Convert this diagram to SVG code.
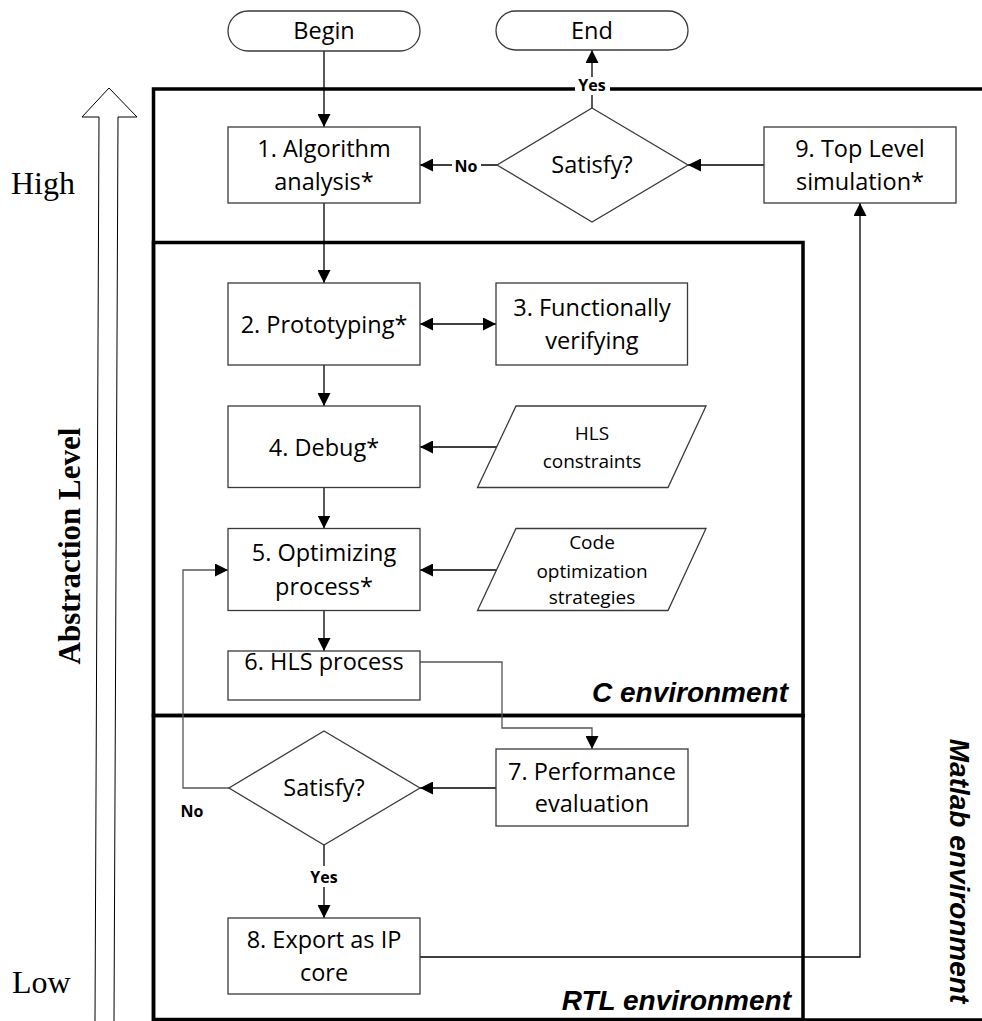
<svg xmlns="http://www.w3.org/2000/svg" width="982" height="1021" viewBox="0 0 982 1021">
<defs>
<marker id="ah" markerUnits="userSpaceOnUse" markerWidth="13" markerHeight="13" refX="13" refY="6.5" orient="auto-start-reverse" viewBox="0 0 13 13">
<path d="M0,0 L13,6.5 L0,13 z" fill="#000"/>
</marker>
</defs>
<style>
.frame{fill:none;stroke:#000;stroke-width:3.5}
.box{fill:#fff;stroke:#3a3a3a;stroke-width:1.3}
.c{fill:none;stroke:#000;stroke-width:1.3}
.cg{fill:none;stroke:#555;stroke-width:1.3}
.t{font-family:"Open Sans","Liberation Sans",sans-serif;font-size:23.5px;fill:#000;text-anchor:middle}
.ts{font-family:"Open Sans","Liberation Sans",sans-serif;font-size:19px;fill:#000;text-anchor:middle}
.lbl{font-family:"Open Sans","Liberation Sans",sans-serif;font-size:16px;font-weight:bold;fill:#000;text-anchor:middle}
.env{font-family:"Liberation Sans",Arial,sans-serif;font-size:28px;font-weight:bold;font-style:italic;fill:#000}
.serif{font-family:"Liberation Serif","Times New Roman",serif;fill:#000}
</style>

<g id="abstraction-arrow">
<path d="M95,1021 L99,117 L82,117 L109,88 L137,117 L118,117 L114,1021" fill="#fff" stroke="#000" stroke-width="1"/>
<text class="serif" x="11" y="194" font-size="32">High</text>
<text class="serif" x="12" y="993" font-size="32">Low</text>
<text class="serif" transform="translate(80,546) rotate(-90)" font-size="31" font-weight="bold" text-anchor="middle">Abstraction Level</text>
</g>

<g id="env-frames">
<rect class="frame" x="153.5" y="89" width="850" height="931"/>
<rect class="frame" x="153.5" y="242.5" width="649.5" height="473"/>
<rect class="frame" x="153.5" y="715.5" width="649.5" height="304"/>
<text class="env" x="788" y="702" text-anchor="end">C environment</text>
<text class="env" x="791" y="1010" text-anchor="end">RTL environment</text>
<text class="env" transform="translate(950,871) rotate(90)" text-anchor="middle">Matlab environment</text>
</g>

<g id="connectors">
<line class="c" x1="324" y1="51" x2="324" y2="127" marker-end="url(#ah)"/>
<line class="c" x1="324" y1="203" x2="324" y2="283" marker-end="url(#ah)"/>
<line class="c" x1="420" y1="324" x2="496" y2="324" marker-start="url(#ah)" marker-end="url(#ah)"/>
<line class="c" x1="324" y1="365" x2="324" y2="406" marker-end="url(#ah)"/>
<line class="c" x1="497" y1="447" x2="420" y2="447" marker-end="url(#ah)"/>
<line class="c" x1="324" y1="487.5" x2="324" y2="528.5" marker-end="url(#ah)"/>
<line class="c" x1="497" y1="570" x2="420" y2="570" marker-end="url(#ah)"/>
<line class="c" x1="324" y1="611" x2="324" y2="651" marker-end="url(#ah)"/>
<polyline class="cg" points="420,662 502,662 502,728 592,728 592,749" marker-end="url(#ah)"/>
<line class="c" x1="496" y1="788" x2="420" y2="788" marker-end="url(#ah)"/>
<polyline class="cg" points="229,788 183,788 183,570 228,570" marker-end="url(#ah)"/>
<line class="c" x1="324" y1="845" x2="324" y2="918" marker-end="url(#ah)"/>
<polyline class="c" points="420,957 860,957 860,203" marker-end="url(#ah)"/>
<line class="c" x1="764" y1="165" x2="688" y2="165" marker-end="url(#ah)"/>
<line class="c" x1="497" y1="165" x2="420" y2="165" marker-end="url(#ah)"/>
<line class="c" x1="592" y1="108" x2="592" y2="50" marker-end="url(#ah)"/>
<rect x="452" y="157" width="29" height="18" fill="#fff"/>
<text class="lbl" x="466" y="172">No</text>
<rect x="575" y="77" width="35" height="18" fill="#fff"/>
<text class="lbl" x="592" y="91">Yes</text>
<rect x="307" y="866" width="34" height="21" fill="#fff"/>
<text class="lbl" x="324" y="883">Yes</text>
<text class="lbl" x="192" y="817">No</text>
</g>

<g id="begin">
<rect class="box" x="228" y="11" width="192" height="40" rx="20"/>
<text class="t" x="324" y="39">Begin</text>
</g>
<g id="end">
<rect class="box" x="496" y="11" width="192" height="39" rx="19.5"/>
<text class="t" x="592" y="39">End</text>
</g>
<g id="n1">
<rect class="box" x="228" y="127" width="192" height="76"/>
<text class="t" x="324" y="157">1. Algorithm</text>
<text class="t" x="324" y="190">analysis*</text>
</g>
<g id="d1">
<polygon class="box" points="592,108 688,165 592,222 497,165"/>
<text class="t" x="592" y="173">Satisfy?</text>
</g>
<g id="n9">
<rect class="box" x="764" y="127" width="192" height="76"/>
<text class="t" x="860" y="157">9. Top Level</text>
<text class="t" x="860" y="190">simulation*</text>
</g>
<g id="n2">
<rect class="box" x="228" y="283" width="192" height="82"/>
<text class="t" x="324" y="333">2. Prototyping*</text>
</g>
<g id="n3">
<rect class="box" x="496" y="283" width="191.5" height="82"/>
<text class="t" x="592" y="316">3. Functionally</text>
<text class="t" x="592" y="349">verifying</text>
</g>
<g id="n4">
<rect class="box" x="228" y="406" width="192" height="81.5"/>
<text class="t" x="324" y="456">4. Debug*</text>
</g>
<g id="hls-constraints">
<polygon class="box" points="477.5,487.5 516,406 706,406 668,487.5"/>
<text class="ts" x="592" y="440">HLS</text>
<text class="ts" x="592" y="467.5">constraints</text>
</g>
<g id="n5">
<rect class="box" x="228" y="528.5" width="192" height="82"/>
<text class="t" x="324" y="561">5. Optimizing</text>
<text class="t" x="324" y="594.5">process*</text>
</g>
<g id="code-opt">
<polygon class="box" points="477.5,610.5 516,528.5 706,528.5 668,610.5"/>
<text class="ts" x="592" y="549">Code</text>
<text class="ts" x="592" y="577.5">optimization</text>
<text class="ts" x="592" y="604">strategies</text>
</g>
<g id="n6">
<rect class="box" x="228" y="651" width="192" height="49"/>
<text class="t" x="324" y="670">6. HLS process</text>
</g>
<g id="n7">
<rect class="box" x="496" y="749" width="192" height="77"/>
<text class="t" x="592" y="780">7. Performance</text>
<text class="t" x="592" y="812">evaluation</text>
</g>
<g id="d2">
<polygon class="box" points="324,731 420,788 324,845 229,788"/>
<text class="t" x="324" y="796">Satisfy?</text>
</g>
<g id="n8">
<rect class="box" x="228" y="918" width="192" height="76"/>
<text class="t" x="324" y="948">8. Export as IP</text>
<text class="t" x="324" y="981">core</text>
</g>
</svg>
